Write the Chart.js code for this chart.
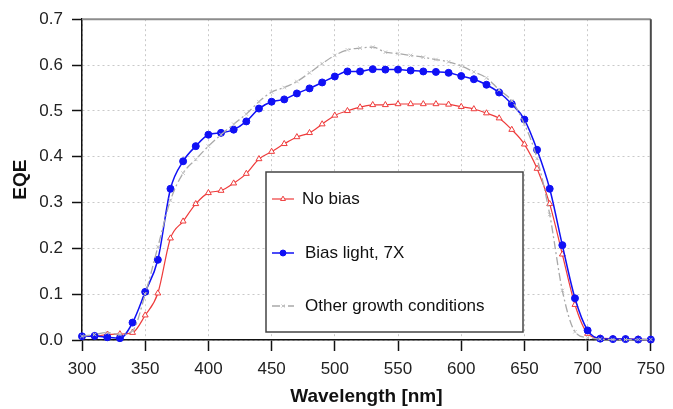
<!DOCTYPE html>
<html>
<head>
<meta charset="utf-8">
<script src="https://cdn.jsdelivr.net/npm/chart.js@4.4.0/dist/chart.umd.min.js"></script>
<style>
    body { margin: 0; background: #fff; }
    #wrap { width: 673px; height: 409px; }
</style>
</head>
<body>
<div id="wrap"><canvas id="eqe" width="673" height="409"></canvas></div>
<script>
// wavelength grid (nm), one point every 10 nm
const wavelengths = [
    300, 310, 320, 330, 340, 350, 360, 370, 380, 390,
    400, 410, 420, 430, 440, 450, 460, 470, 480, 490,
    500, 510, 520, 530, 540, 550, 560, 570, 580, 590,
    600, 610, 620, 630, 640, 650, 660, 670, 680, 690,
    700, 710, 720, 730, 740, 750
];

const noBias = [
    0.008, 0.008, 0.012, 0.013, 0.016, 0.054, 0.102, 0.222, 0.259, 0.297,
    0.321, 0.326, 0.342, 0.363, 0.395, 0.411, 0.428, 0.443, 0.452, 0.471,
    0.490, 0.500, 0.508, 0.513, 0.513, 0.515, 0.515, 0.515, 0.515, 0.514,
    0.509, 0.504, 0.495, 0.484, 0.459, 0.427, 0.374, 0.297, 0.187, 0.077,
    0.014, 0.004, 0.003, 0.002, 0.002, 0.000
];

const biasLight = [
    0.008, 0.009, 0.006, 0.004, 0.038, 0.105, 0.175, 0.330, 0.390, 0.423,
    0.448, 0.452, 0.459, 0.477, 0.505, 0.520, 0.525, 0.538, 0.549, 0.562,
    0.575, 0.586, 0.586, 0.591, 0.590, 0.590, 0.588, 0.586, 0.585, 0.583,
    0.576, 0.569, 0.557, 0.540, 0.515, 0.481, 0.415, 0.330, 0.207, 0.091,
    0.021, 0.003, 0.002, 0.002, 0.001, 0.001
];

const otherGrowth = [
    0.008, 0.012, 0.016, 0.012, 0.020, 0.100, 0.203, 0.305, 0.364, 0.394,
    0.423, 0.448, 0.471, 0.493, 0.520, 0.541, 0.551, 0.564, 0.583, 0.603,
    0.621, 0.633, 0.637, 0.639, 0.628, 0.625, 0.621, 0.617, 0.612, 0.607,
    0.598, 0.585, 0.572, 0.546, 0.522, 0.471, 0.396, 0.274, 0.108, 0.018,
    0.005, 0.002, 0.001, 0.001, 0.001, 0.001
];

const xTicks = [300, 350, 400, 450, 500, 550, 600, 650, 700, 750];
const yTicks = [0.0, 0.1, 0.2, 0.3, 0.4, 0.5, 0.6, 0.7];

const FONT = "'Liberation Sans', Arial, sans-serif";
const RED = "#ee3b3b";
const BLUE = "#1010f5";
const GRAY = "#a9a9a9";

function points(values) {
    return wavelengths.map((w, i) => ({ x: w, y: values[i] }));
}

// top and right frame lines of the plot box
const frame = {
    id: "frame",
    beforeDatasetsDraw(chart) {
        const { ctx, chartArea: a } = chart;
        ctx.save();
        ctx.lineWidth = 2;
        ctx.strokeStyle = "#8c8c8c";
        ctx.beginPath();
        ctx.moveTo(a.left, a.top);
        ctx.lineTo(a.right, a.top);
        ctx.stroke();
        ctx.strokeStyle = "#4a4a4a";
        ctx.beginPath();
        ctx.moveTo(a.right, a.top);
        ctx.lineTo(a.right, a.bottom);
        ctx.stroke();
        ctx.restore();
    }
};

// boxed legend sitting inside the plot
const boxLegend = {
    id: "boxLegend",
    afterDraw(chart) {
        const ctx = chart.ctx;
        ctx.save();
        ctx.fillStyle = "#fff";
        ctx.fillRect(266, 172, 257, 160);
        ctx.lineWidth = 1.5;
        ctx.strokeStyle = "#444";
        ctx.strokeRect(266, 172, 257, 160);

        const rows = [199, 253, 306];
        chart.data.datasets.forEach((ds) => {
            const y = rows[ds.legendRow];

            ctx.save();
            ctx.strokeStyle = ds.borderColor;
            ctx.lineWidth = ds.borderWidth;
            ctx.setLineDash(ds.borderDash || []);
            ctx.beginPath();
            ctx.moveTo(272, y);
            ctx.lineTo(294, y);
            ctx.stroke();
            ctx.restore();

            // drawPoint takes its colours from the context
            ctx.save();
            ctx.fillStyle = ds.pointBackgroundColor;
            ctx.strokeStyle = ds.pointBorderColor;
            ctx.lineWidth = ds.pointBorderWidth;
            Chart.helpers.drawPoint(ctx, {
                pointStyle: ds.pointStyle,
                radius: ds.pointRadius * 0.85,
                borderWidth: ds.pointBorderWidth
            }, 283, y);
            ctx.restore();

            ctx.fillStyle = "#111";
            ctx.font = "17px " + FONT;
            ctx.textBaseline = "middle";
            ctx.textAlign = "left";
            ctx.fillText(ds.label, ds.legendRow === 0 ? 302 : 305, y);
        });
        ctx.restore();
    }
};

new Chart(document.getElementById("eqe"), {
    type: "line",
    data: {
        datasets: [
            {
                label: "Other growth conditions",
                legendRow: 2,
                order: 0,
                data: points(otherGrowth),
                borderColor: GRAY,
                borderWidth: 1.3,
                borderDash: [8, 3, 2, 3],
                pointStyle: "crossRot",
                pointRadius: 2.5,
                pointBorderWidth: 1,
                pointBorderColor: "#c4c4c4",
                pointBackgroundColor: "#c4c4c4",
                cubicInterpolationMode: "monotone",
                clip: false
            },
            {
                label: "Bias light, 7X",
                legendRow: 1,
                order: 1,
                data: points(biasLight),
                borderColor: BLUE,
                borderWidth: 1.5,
                pointStyle: "circle",
                pointRadius: 3.5,
                pointBorderWidth: 1,
                pointBorderColor: BLUE,
                pointBackgroundColor: BLUE,
                cubicInterpolationMode: "monotone",
                clip: false
            },
            {
                label: "No bias",
                legendRow: 0,
                order: 2,
                data: points(noBias),
                borderColor: RED,
                borderWidth: 1.2,
                pointStyle: "triangle",
                pointRadius: 3.4,
                pointBorderWidth: 1,
                pointBorderColor: RED,
                pointBackgroundColor: "#fff",
                cubicInterpolationMode: "monotone",
                clip: false
            }
        ]
    },
    options: {
        responsive: false,
        animation: false,
        layout: { padding: { left: 0, right: 17, top: 16, bottom: 0 } },
        plugins: {
            legend: { display: false },
            tooltip: { enabled: false }
        },
        scales: {
            x: {
                type: "linear",
                min: 300,
                max: 750,
                afterFit(scale) { scale.height = 69; },
                afterBuildTicks(scale) { scale.ticks = xTicks.map(v => ({ value: v })); },
                ticks: {
                    padding: 8,
                    color: "#222",
                    font: { family: FONT, size: 17 }
                },
                grid: {
                    color: "#c9c9c9",
                    lineWidth: 1,
                    tickLength: 11,
                    tickColor: "#111",
                    tickWidth: 1.5
                },
                border: { display: true, color: "#111", width: 1.5, dash: [2, 3] },
                title: {
                    display: true,
                    text: "Wavelength [nm]",
                    color: "#111",
                    font: { family: FONT, size: 19, weight: "bold" },
                    padding: { top: 0, bottom: 1 }
                }
            },
            y: {
                min: 0,
                max: 0.7,
                afterFit(scale) { scale.width = 82; },
                afterBuildTicks(scale) { scale.ticks = yTicks.map(v => ({ value: v })); },
                ticks: {
                    padding: 9,
                    color: "#222",
                    font: { family: FONT, size: 17 },
                    callback: (v) => v.toFixed(1)
                },
                grid: {
                    color: "#c9c9c9",
                    lineWidth: 1,
                    tickLength: 10,
                    tickColor: "#111",
                    tickWidth: 1.5
                },
                border: { display: true, color: "#111", width: 1.5, dash: [2, 3] },
                title: {
                    display: true,
                    text: "EQE",
                    color: "#111",
                    font: { family: FONT, size: 19, weight: "bold" },
                    padding: { top: 9, bottom: 0 }
                }
            }
        }
    },
    plugins: [frame, boxLegend]
});
</script>
</body>
</html>
